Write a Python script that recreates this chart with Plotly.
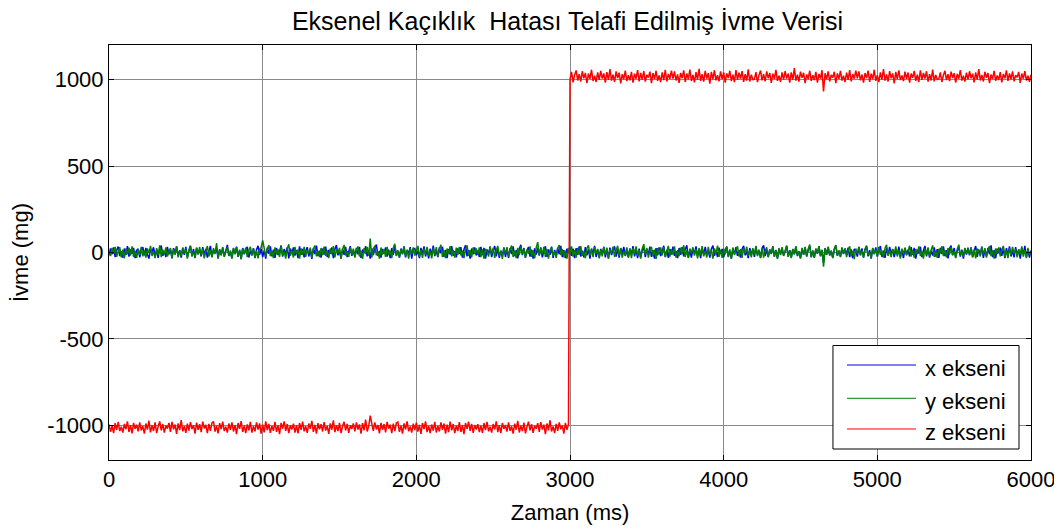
import plotly.graph_objects as go

# ---------------- data ----------------
sample_step_ms = 10
time_ms = [i * sample_step_ms for i in range(601)]           # 0 .. 6000

x_axis_mg = [
    -16, 24, -10, 29, -27, 13, 34, -21, 7, -30, 23, -14, 37, -24, 18, -8, 27, -33, 12, 21,
    -28, 10, 31, -17, 26, -12, -35, 19, 4, 30, -25, 15, -31, 22, 40, -19, 8, -27, 32, -10,
    17, -34, 25, -6, 36, -21, 13, -29, 24, -14, 33, -25, 7, 39, -18, 20, -33, 28, -9, 16,
    -23, 31, -12, 21, -30, 9, 38, -26, 15, -4, 27, -35, 18, -16, 29, -22, 11, 44, -20, 5,
    -33, 24, -8, 34, -25, 14, -38, 26, -11, 19, 32, -29, 10, -17, 25, -33, 16, 39, -13, 22,
    -27, 12, -36, 28, -7, 35, -22, 17, -31, 26, -15, 8, 41, -24, 20, -10, 30, -34, 23, -5,
    29, -18, 13, -32, 36, -14, 21, -28, 7, 31, -23, 16, -37, 25, -9, 40, -21, 11, -30, 23,
    -12, 34, -26, 15, -7, 29, -32, 19, 43, -16, 10, -35, 22, -13, 33, -27, 6, 37, -19, 14,
    -25, 26, -10, 32, -31, 17, -4, 36, -22, 12, -36, 24, -15, 28, 46, -20, 9, -29, 21, -8,
    30, -24, 16, -33, 25, -13, 38, -18, 7, -30, 23, -11, 35, -28, 14, -6, 31, -36, 19, 23,
    -16, 10, -32, 27, -9, 36, -23, 18, -34, 22, -14, 40, -21, 11, -27, 29, -5, 33, -25, 15,
    -32, 20, -12, 37, -19, 8, -28, 24, -7, 31, -30, 17, 42, -22, 13, -35, 23, -10, 29, -17,
    11, -26, 33, -15, 27, -35, 18, -6, 32, -27, 12, 37, -22, 23, -31, 10, -18, 29, -26, 20,
    -31, 25, -9, 35, -21, 14, -34, 21, 44, -15, 26, -30, 11, 32, -24, 17, -36, 24, -12, 28,
    -17, 30, -28, 9, 36, -25, 18, -13, 34, -31, 15, -22, 27, -10, 39, -27, 13, -32, 22, -5,
    29, -19, 22, -33, 25, -14, 36, -23, 10, -28, 31, -16, 18, -35, 23, -8, 38, -26, 16, -30,
    21, -11, 33, -28, 19, -34, 28, -15, 12, 35, -24, 21, -30, 26, -7, 32, -20, 14, -29, 24,
    -13, 37, -22, 17, -32, 23, -29, 11, 29, -27, 18, -10, 34, -25, 13, -36, 25, -16, 30, -21,
    9, 39, -26, 15, -31, 20, -12, 34, -19, 8, -33, 26, -14, 31, -23, 19, 42, -29, 12, -29,
    23, -9, 35, -20, 17, -33, 25, -13, 33, -17, 10, -30, 21, 40, -19, 13, -26, 28, -7, 21,
    -28, 14, 34, -23, 10, -36, 22, -9, 31, -19, 13, -29, 20, 38, -16, 5, -32, 26, -12, 17,
    -25, 32, -15, 11, -29, 24, 41, -20, 14, -26, 17, -7, 35, -24, 15, -34, 21, -11, 27, -18,
    7, 37, -24, 13, -28, 19, -10, 34, -21, 8, -34, 23, -14, 28, -23, 16, 39, -26, 10, -30,
    20, -6, 35, -22, 14, -60, 25, -13, 30, -17, 10, -32, 17, 42, -19, 11, -24, 26, -9, 23,
    -14, 28, -27, 18, -33, 21, 9, -24, 32, -12, 24, -29, 16, 36, -22, 13, -35, 23, -8, 29,
    -23, 18, 37, -26, 11, -31, 25, -15, 32, -10, 20, -27, 17, -11, 34, -25, 15, -32, 26, -13,
    16, -23, 31, -14, 27, -35, 16, -6, 33, -27, 12, 38, -22, 23, -29, 10, -18, 29, -24, 20,
    -31, 27, -9, 35, -21, 14, -34, 23, 40, -15, 26, -28, 11, 32, -24, 17, -36, 24, -12, 28,
    -17, 30, -28, 9, 37, -25, 18, -13, 34, -31, 15, -22, 27, -10, 41, -27, 13, -32, 22, -5,
    28, -19, 22, -33, 25, -14, 36, -23, 10, -28, 31, -16, 18, -35, 23, -8, 38, -26, 16, -30,
    12,
]

y_axis_mg = [
    14, -21, 27, -8, 33, -25, 6, 31, -29, 17, -34, 22, -11, 28, -18, 36, -26, 9, -31, 19,
    -13, 32, -22, 12, -30, 24, -5, 38, -20, 7, -33, 25, -15, 41, -27, 16, -9, 30, -23, 4,
    26, -32, 20, -14, 35, -28, 11, -19, 29, -6, 23, -36, 15, 39, -24, 8, -30, 27, -12, 33,
    -17, 21, -34, 9, 37, -23, 13, -28, 25, -9, 55, -31, 18, -15, 29, -26, 5, 34, -20, 12,
    -35, 27, -10, 31, -22, 16, -38, 21, -7, 28, -27, 12, 33, -17, 24, -30, 10, -34, 19, 29,
    70, 25, -24, 15, 43, -21, 8, -32, 30, -10, 18, -26, 36, -16, 6, -35, 22, 47, -19, 11,
    -29, 32, -8, 17, -36, 24, -13, 33, -25, 14, -4, 28, -31, 20, 40, -22, 9, -27, 26, -15,
    34, -19, 12, -33, 23, -11, 37, -28, 16, -6, 27, -34, 19, 44, -18, 7, -25, 31, -13, 22,
    -30, 15, 35, -23, 10, -37, 25, -9, 32, -19, 80, -29, 21, 39, -16, 5, -35, 29, -12, 18,
    -26, 33, -15, 11, -32, 27, 50, -20, 14, -28, 20, -7, 34, -24, 16, -36, 24, -11, 30, -18,
    9, 38, -25, 14, -31, 22, -10, 33, -21, 8, -34, 26, -14, 31, -23, 17, 45, -27, 12, -32,
    23, -6, 36, -22, 15, -30, 28, -13, 32, -17, 10, -33, 20, 42, -19, 13, -28, 29, -9, 24,
    -14, 30, -27, 18, -35, 21, 7, -24, 35, -12, 26, -31, 14, 38, -20, 11, -37, 25, -6, 31,
    -23, 16, 40, -26, 9, -33, 27, -15, 34, -10, 22, -29, 17, -8, 36, -25, 13, -34, 28, 60,
    -18, 24, -11, 33, -27, 19, -36, 12, 29, -21, 8, -31, 25, 43, -15, 20, -28, 10, -35, 27,
    -9, 35, -24, 14, -30, 26, -12, 37, -19, 6, -33, 23, 41, -16, 18, -27, 31, -7, 21, -34,
    15, -22, 32, -13, 28, -36, 17, -5, 34, -26, 11, 39, -21, 24, -30, 9, -17, 30, -25, 19,
    -32, 26, -8, 36, -20, 13, -35, 22, 48, -14, 27, -29, 10, 33, -23, 16, -37, 25, -11, 29,
    -16, 31, -27, 8, 38, -24, 19, -12, 35, -30, 14, -21, 28, -9, 42, -26, 12, -33, 23, -4,
    30, -18, 21, -34, 26, -13, 37, -22, 9, -29, 32, -15, 17, -36, 24, -7, 40, -25, 15, -31,
    22, -10, 34, -27, 18, -35, 29, -14, 11, 36, -23, 20, -31, 27, -6, 33, -19, 13, -28, 25,
    -12, 39, -21, 16, -33, 24, -30, 10, 30, -26, 17, -9, 35, -24, 12, -37, 26, -15, 31, -20,
    8, 41, -25, 14, -32, 21, -11, 35, -18, 7, -34, 27, -13, 32, -22, 18, 46, -28, 11, -30,
    24, -8, 37, -19, 16, -82, 26, -12, 34, -16, 9, -31, 20, 43, -18, 12, -27, 29, -6, 22,
    -27, 13, 36, -22, 9, -38, 23, -8, 32, -18, 12, -30, 21, 40, -15, 4, -33, 27, -11, 18,
    -24, 33, -14, 10, -30, 25, 44, -19, 13, -27, 18, -6, 36, -23, 14, -35, 22, -10, 28, -17,
    6, 39, -23, 12, -29, 20, -9, 35, -20, 7, -35, 24, -13, 29, -22, 15, 41, -25, 9, -31,
    21, -5, 36, -21, 13, -28, 26, -12, 31, -16, 9, -33, 18, 45, -18, 10, -25, 27, -8, 24,
    -13, 29, -26, 17, -34, 22, 8, -23, 33, -11, 25, -30, 15, 37, -21, 12, -36, 24, -7, 30,
    -22, 17, 38, -25, 10, -32, 26, -14, 33, -9, 21, -28, 16, -10, 35, -24, 14, -33, 27, -12,
    5,
]

# z axis: level before / after the flip at 3000 ms, plus the noise read around each level
z_level_before_mg = -1013
z_level_after_mg = 1016

z_noise_before_mg = [   # 0 .. 2990 ms
    19, -24, 11, -31, 26, -13, 34, -20, 5, -28, 22, -9, 37, -25, 15, -33, 28, -6, 17, -21,
    31, -16, 9, -35, 24, -11, 40, -27, 13, -19, 30, -32, 7, 36, -15, 21, -29, 12, -5, 27,
    -24, 33, -10, 18, -36, 25, -14, 44, -21, 8, -30, 23, -17, 32, -8, 14, -34, 29, -12, 20,
    -26, 35, -4, 16, -31, 22, -19, 28, 36, -23, 11, -33, 26, -9, 35, -20, 6, -28, 24, -13,
    30, -22, 15, -37, 27, -7, 38, -25, 12, -32, 19, -16, 34, -29, 9, -21, 31, -11, 25, -35,
    17, -27, 36, -14, 22, -30, 10, -18, 33, -24, 13, -38, 28, -6, 36, -19, 21, -31, 14, -10,
    23, -29, 14, -33, 27, -12, 35, -21, 8, -30, 24, -7, 39, -24, 16, -34, 26, -9, 20, -22,
    32, -17, 10, -36, 25, -12, 42, -26, 14, -20, 28, -31, 8, 34, -16, 22, -30, 13, -7, 25,
    -22, 31, -11, 19, -35, 26, -15, 46, -22, 9, 70, 24, -18, 30, -10, 15, -33, 28, -13, 21,
    -27, 34, -6, 17, -32, 23, -20, 27, 33, -24, 12, -34, 25, -10, 36, -21, 7, -29, 23, -14,
    29, -23, 16, -36, 26, -8, 37, -26, 11, -31, 18, -17, 33, -28, 10, -22, 30, -12, 24, -34,
    18, -26, 35, -15, 21, -31, 11, -19, 32, -25, 14, -37, 27, -7, 35, -18, 22, -30, 15, -11,
    20, -25, 12, -30, 27, -14, 33, -21, 6, -29, 21, -10, 36, -26, 14, -32, 27, -7, 16, -23,
    30, -18, 8, -34, 23, -12, 39, -28, 12, -20, 29, -33, 6, 35, -16, 20, -30, 11, -6, 26,
    -25, 32, -11, 17, -37, 24, -15, 43, -22, 7, -31, 22, -18, 31, -9, 13, -35, 28, -13, 19,
]

z_noise_after_mg = [    # 3000 .. 6000 ms
    -15, 28, -32, 11, 37, -21, 16, -27, 32, -9, 23, -36, 19, -12, 41, -24, 7, -30, 26, -17,
    34, -10, 20, -33, 27, -18, 45, -22, 13, -29, 31, -7, 24, -38, 15, -14, 36, -25, 10, -20,
    29, -34, 18, -11, 39, -26, 22, -16, 33, -28, 12, -5, 30, -37, 21, -13, 35, -23, 8, -31,
    25, -19, 40, -27, 17, -12, 36, -10, 32, -21, 14, -35, 23, -8, 37, -30, 19, -15, 42, -24,
    11, -32, 27, -17, 46, -23, 15, -28, 34, -10, 21, -39, 29, -14, 38, -20, 9, -26, 31, -13,
    26, -34, 20, -7, 35, -25, 13, -31, 39, -18, 24, -11, 33, -29, 16, -22, 43, -27, 12, -16,
    -14, 27, -31, 10, 36, -20, 16, -26, 31, -8, 22, -35, 18, -12, 40, -23, 7, -29, 25, -16,
    33, -10, 19, -33, 26, -17, 50, -22, 12, -28, 30, -6, 23, -37, 14, -13, 35, -24, 9, -19,
    28, -33, 17, -10, 38, -85, 21, -15, 32, -27, 11, -4, 29, -36, 20, -12, 34, -22, 7, -30,
    24, -18, 39, -26, 16, -11, 35, -9, 31, -20, 13, -34, 22, -7, 36, -29, 18, -14, 41, -23,
    10, -31, 26, -16, 45, -22, 14, -27, 33, -9, 20, -38, 28, -13, 37, -19, 8, -25, 30, -12,
    25, -33, 19, -6, 34, -24, 12, -30, 38, -17, 23, -10, 32, -28, 15, -21, 42, -26, 11, -15,
    -13, 26, -30, 9, 35, -19, 15, -25, 30, -7, 21, -34, 17, -11, 39, -22, 6, -28, 24, -15,
    32, -9, 18, -32, 25, -16, 44, -21, 11, -27, 29, -5, 22, -36, 13, -12, 34, -23, 8, -18,
    27, -32, 16, -9, 37, -24, 20, -14, 31, -26, 10, -3, 28, -35, 19, -11, 33, -21, 6, -29,
    12,
]

series_names = ["x ekseni", "y ekseni", "z ekseni"]
series_colors = ["#0000ff", "#008000", "#ff0000"]

y_tick_values = [-1000, -500, 0, 500, 1000]
y_tick_text = ["-1000", "-500", "0", "500", "1000"]
x_tick_values = [0, 1000, 2000, 3000, 4000, 5000, 6000]

z_axis_mg = ([z_level_before_mg + v for v in z_noise_before_mg]
             + [z_level_after_mg + v for v in z_noise_after_mg])
z_time_ms = time_ms[:len(z_axis_mg)]

# ---------------- figure ----------------
FONT = "Liberation Sans, Arial, sans-serif"
DATA_LINE_WIDTH = 1.5
fig = go.Figure()

fig.add_trace(go.Scatter(x=time_ms, y=x_axis_mg, mode="lines", name=series_names[0],
                         line=dict(color=series_colors[0], width=DATA_LINE_WIDTH, simplify=False)))
fig.add_trace(go.Scatter(x=time_ms, y=y_axis_mg, mode="lines", name=series_names[1],
                         line=dict(color=series_colors[1], width=DATA_LINE_WIDTH, simplify=False)))
fig.add_trace(go.Scatter(x=z_time_ms, y=z_axis_mg, mode="lines", name=series_names[2],
                         line=dict(color=series_colors[2], width=DATA_LINE_WIDTH, simplify=False)))

axis_common = dict(
    showline=True, linecolor="black", linewidth=1, mirror="allticks",
    ticks="inside", ticklen=5, tickcolor="black", tickwidth=1,
    showgrid=True, gridcolor="#8a8a8a", gridwidth=1, zeroline=False,
    automargin=False,
    tickfont=dict(family=FONT, size=22, color="black"),
)

fig.update_layout(
    width=1054, height=521,
    margin=dict(l=101, r=31, t=37, b=69),
    paper_bgcolor="white", plot_bgcolor="white",
    showlegend=False,
    title=dict(text="Eksenel Kaçıklık&nbsp; Hatası Telafi Edilmiş İvme Verisi",
               xref="paper", x=0.4973, xanchor="center",
               yref="container", y=0.975, yanchor="middle",
               font=dict(family=FONT, size=25, color="black")),
    xaxis=dict(range=[0, 6000], tickvals=x_tick_values,
               title=dict(text="Zaman (ms)", font=dict(family=FONT, size=22, color="black"),
                          standoff=13),
               **axis_common),
    yaxis=dict(range=[-1200, 1200], tickvals=y_tick_values, ticktext=y_tick_text,
               title=dict(text="İvme (mg)", font=dict(family=FONT, size=22, color="black"),
                          standoff=16),
               **axis_common),
)

# ---------------- MATLAB-style legend box ----------------
lx0, lx1, ly0, ly1 = 0.7852, 0.987, 0.0265, 0.2759
fig.add_shape(type="rect", xref="paper", yref="paper", x0=lx0, x1=lx1, y0=ly0, y1=ly1,
              line=dict(color="black", width=1), fillcolor="white", layer="above")
row_y = [0.2289, 0.1487, 0.0747]
for name, color, ry in zip(series_names, series_colors, row_y):
    fig.add_shape(type="line", xref="paper", yref="paper", x0=0.8004, x1=0.8753, y0=ry, y1=ry,
                  line=dict(color=color, width=1), layer="above")
    fig.add_annotation(xref="paper", yref="paper", x=0.8832, y=ry - 0.008, text=name,
                       showarrow=False, xanchor="left", yanchor="middle",
                       font=dict(family=FONT, size=22, color="black"))

fig.write_html("out.html")
